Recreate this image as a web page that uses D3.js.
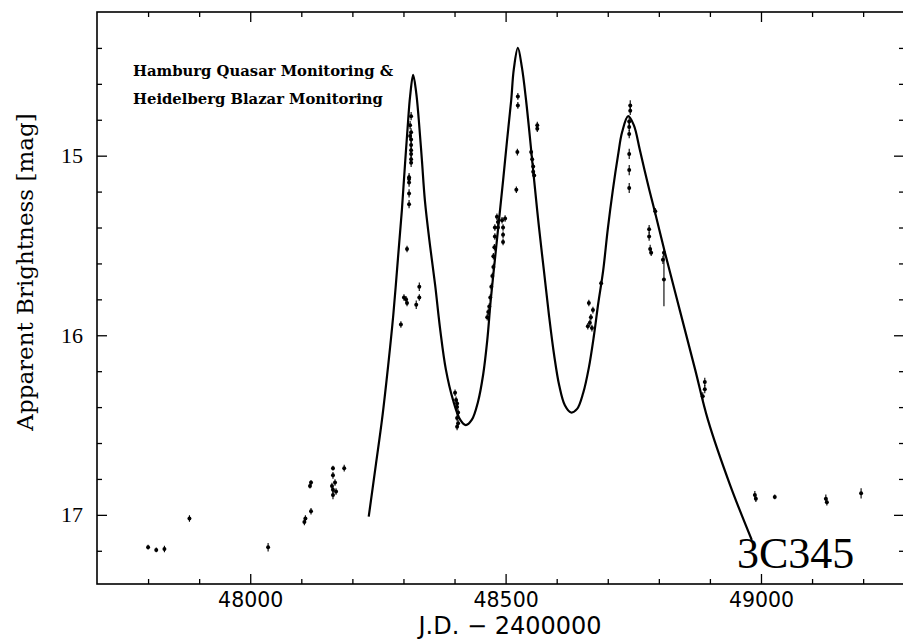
<!DOCTYPE html>
<html>
<head>
<meta charset="utf-8">
<script src="https://cdn.jsdelivr.net/npm/d3@7"></script>
<style>
body { margin: 0; background: #fff; }
.axis path { display: none; }
.axis line { stroke: #000; stroke-width: 1.3; }
</style>
</head>
<body>
<svg width="903" height="640"></svg>
<script>
// model light curve, [J.D. - 2400000, mag]
const model = [
  [48232, 17.01], [48246, 16.72], [48258, 16.47], [48270, 16.17], [48280, 15.89],
  [48289, 15.58], [48297, 15.30], [48303, 15.05], [48309, 14.81], [48313, 14.67],
  [48319, 14.55], [48325, 14.65], [48330, 14.80], [48336, 15.02], [48342, 15.25],
  [48352, 15.50], [48362, 15.72], [48372, 15.97],
  [48383, 16.19], [48397, 16.36], [48411, 16.47], [48422, 16.50], [48434, 16.47],
  [48446, 16.37], [48456, 16.22], [48464, 16.03], [48471, 15.80], [48479, 15.58],
  [48487, 15.36], [48495, 15.14], [48503, 14.91], [48511, 14.69], [48516, 14.52],
  [48524, 14.40], [48532, 14.51], [48540, 14.69], [48548, 14.91], [48556, 15.14],
  [48565, 15.39], [48575, 15.64], [48585, 15.89], [48595, 16.11], [48605, 16.28],
  [48616, 16.39], [48628, 16.43], [48640, 16.41], [48652, 16.32], [48663, 16.18],
  [48673, 16.00], [48681, 15.83], [48691, 15.64], [48700, 15.41], [48710, 15.19],
  [48720, 15.00], [48728, 14.87], [48740, 14.78], [48751, 14.83], [48763, 14.97],
  [48777, 15.14], [48792, 15.31], [48812, 15.54], [48841, 15.86], [48871, 16.19],
  [48896, 16.47], [48939, 16.83], [48982, 17.14]
];

// observations, [J.D. - 2400000, mag, error]
const obs = [
  [47800, 17.18, 0.005], [47816, 17.195, 0.005], [47832, 17.19, 0.01], [47881, 17.02, 0.01],
  [48035, 17.18, 0.015], [48106, 17.04, 0.01], [48108, 17.02, 0.01], [48119, 16.98, 0.01],
  [48117, 16.84, 0.005], [48119, 16.82, 0.005], [48162, 16.74, 0.005], [48184, 16.74, 0.01],
  [48162, 16.78, 0.01], [48166, 16.82, 0.01], [48160, 16.84, 0.01], [48162, 16.86, 0.01],
  [48168, 16.87, 0.01], [48162, 16.89, 0.015],
  [48315, 14.78, 0.015], [48313, 14.83, 0.015], [48315, 14.87, 0.015], [48313, 14.89, 0.015],
  [48315, 14.91, 0.015], [48315, 14.94, 0.015], [48315, 14.97, 0.015], [48315, 14.99, 0.015],
  [48315, 15.02, 0.015], [48315, 15.04, 0.015], [48311, 15.12, 0.015], [48311, 15.13, 0.015],
  [48311, 15.15, 0.015], [48311, 15.21, 0.015], [48311, 15.27, 0.015], [48307, 15.52, 0.01],
  [48301, 15.79, 0.01], [48305, 15.80, 0.01], [48307, 15.82, 0.01], [48295, 15.94, 0.01],
  [48331, 15.73, 0.015], [48331, 15.79, 0.01], [48325, 15.83, 0.015],
  [48401, 16.32, 0.01], [48403, 16.36, 0.01], [48405, 16.38, 0.01], [48405, 16.40, 0.01],
  [48407, 16.43, 0.01], [48405, 16.46, 0.01], [48407, 16.49, 0.01], [48405, 16.51, 0.01],
  [48464, 15.90, 0.01], [48466, 15.87, 0.01], [48468, 15.84, 0.01], [48470, 15.79, 0.01],
  [48472, 15.73, 0.01], [48474, 15.67, 0.01], [48476, 15.62, 0.01], [48476, 15.56, 0.01],
  [48478, 15.51, 0.01], [48479, 15.45, 0.01], [48479, 15.40, 0.01], [48483, 15.34, 0.01],
  [48485, 15.37, 0.01], [48485, 15.40, 0.01], [48493, 15.36, 0.01], [48499, 15.35, 0.01],
  [48495, 15.40, 0.01], [48495, 15.44, 0.01], [48495, 15.48, 0.01],
  [48524, 14.67, 0.01], [48524, 14.72, 0.01], [48523, 14.98, 0.01], [48521, 15.19, 0.01],
  [48562, 14.83, 0.01], [48562, 14.85, 0.01], [48550, 14.98, 0.01], [48552, 15.02, 0.01],
  [48554, 15.06, 0.01], [48554, 15.09, 0.01], [48556, 15.11, 0.01],
  [48744, 14.72, 0.02], [48744, 14.75, 0.015], [48742, 14.81, 0.015], [48742, 14.84, 0.015],
  [48742, 14.88, 0.015], [48742, 14.99, 0.02], [48742, 15.08, 0.02], [48742, 15.18, 0.02],
  [48793, 15.31, 0.01], [48781, 15.41, 0.015], [48781, 15.45, 0.015], [48783, 15.52, 0.015],
  [48785, 15.54, 0.01], [48810, 15.54, 0.01], [48808, 15.58, 0.015], [48810, 15.69, 0.14],
  [48687, 15.71, 0.005], [48663, 15.82, 0.01], [48667, 15.90, 0.01], [48671, 15.86, 0.01],
  [48661, 15.95, 0.01], [48669, 15.96, 0.01], [48665, 15.93, 0.01],
  [48890, 16.26, 0.015], [48890, 16.30, 0.015], [48886, 16.34, 0.015],
  [48988, 16.89, 0.015], [48990, 16.91, 0.01], [49027, 16.90, 0.005],
  [49127, 16.91, 0.015], [49129, 16.93, 0.01], [49196, 16.88, 0.02]
];

const xMajor = [48000, 48500, 49000];
const xMinor = d3.range(47800, 49300, 100).filter(v => !xMajor.includes(v));
const yMajor = [15, 16, 17];
const yMinor = [14.4, 14.6, 14.8, 15.2, 15.4, 15.6, 15.8, 16.2, 16.4, 16.6, 16.8, 17.2];

const svg = d3.select("svg");
const x0 = 97, x1 = 904, y0 = 12, y1 = 584;

const x = d3.scaleLinear().domain([47700, 49280]).range([x0, x1]);
const y = d3.scaleLinear().domain([14.2, 17.385]).range([y0, y1]);

function ticks(axis, vals, size, tx, ty) {
  return svg.append("g")
      .attr("class", "axis")
      .attr("transform", `translate(${tx},${ty})`)
      .call(axis.tickValues(vals).tickSize(-size).tickFormat(""));
}

// minor ticks on all four sides
ticks(d3.axisBottom(x), xMinor, 5, 0, y1);
ticks(d3.axisTop(x), xMinor, 5, 0, y0);
ticks(d3.axisLeft(y), yMinor, 5, x0, 0);
ticks(d3.axisRight(y), yMinor, 5, x1, 0);
ticks(d3.axisTop(x), xMajor, 10, 0, y0);
ticks(d3.axisRight(y), yMajor, 10, x1, 0);

// major ticks with labels
svg.append("g")
    .attr("class", "axis")
    .attr("transform", `translate(0,${y1})`)
    .call(d3.axisBottom(x).tickValues(xMajor).tickSize(-10).tickPadding(8).tickFormat(d3.format("d")))
    .selectAll("text")
    .attr("font-family", "DejaVu Sans")
    .attr("font-size", 20.5)
    .attr("fill", "#000");

svg.append("g")
    .attr("class", "axis")
    .attr("transform", `translate(${x0},0)`)
    .call(d3.axisLeft(y).tickValues(yMajor).tickSize(-10).tickPadding(14).tickFormat(d3.format("d")))
    .selectAll("text")
    .attr("font-family", "Liberation Serif")
    .attr("font-size", 22)
    .attr("fill", "#000");

// frame
svg.append("rect")
    .attr("x", x0).attr("y", y0)
    .attr("width", x1 - x0).attr("height", y1 - y0)
    .attr("fill", "none")
    .attr("stroke", "#000")
    .attr("stroke-width", 1.6);

// model curve
const line = d3.line()
    .x(d => x(d[0]))
    .y(d => y(d[1]))
    .curve(d3.curveCatmullRom.alpha(0.5));

svg.append("path")
    .datum(model)
    .attr("d", line)
    .attr("fill", "none")
    .attr("stroke", "#000")
    .attr("stroke-width", 2.2);

// data points with error bars
const pts = svg.append("g").selectAll("g")
    .data(obs)
    .enter().append("g");

pts.append("line")
    .attr("x1", d => x(d[0])).attr("x2", d => x(d[0]))
    .attr("y1", d => y(d[1] - d[2]) - 1.5)
    .attr("y2", d => y(d[1] + d[2]) + 1.5)
    .attr("stroke", "#000")
    .attr("stroke-width", 1.1);

pts.append("circle")
    .attr("cx", d => x(d[0]))
    .attr("cy", d => y(d[1]))
    .attr("r", 2)
    .attr("fill", "#000");

// labels
svg.append("text")
    .attr("x", 510).attr("y", 634)
    .attr("text-anchor", "middle")
    .attr("font-family", "DejaVu Sans")
    .attr("font-size", 24)
    .text("J.D. \u2212 2400000");

svg.append("text")
    .attr("transform", "translate(33,272) rotate(-90)")
    .attr("text-anchor", "middle")
    .attr("font-family", "DejaVu Serif")
    .attr("font-size", 23)
    .text("Apparent Brightness [mag]");

svg.append("text")
    .attr("x", 737).attr("y", 568)
    .attr("font-family", "Liberation Serif")
    .attr("font-size", 44)
    .text("3C345");

const note = svg.append("text")
    .attr("font-family", "DejaVu Serif")
    .attr("font-weight", "bold")
    .attr("font-size", 14.8);
note.append("tspan").attr("x", 133).attr("y", 76).text("Hamburg Quasar Monitoring &");
note.append("tspan").attr("x", 133).attr("y", 104).text("Heidelberg Blazar Monitoring");
</script>
</body>
</html>
